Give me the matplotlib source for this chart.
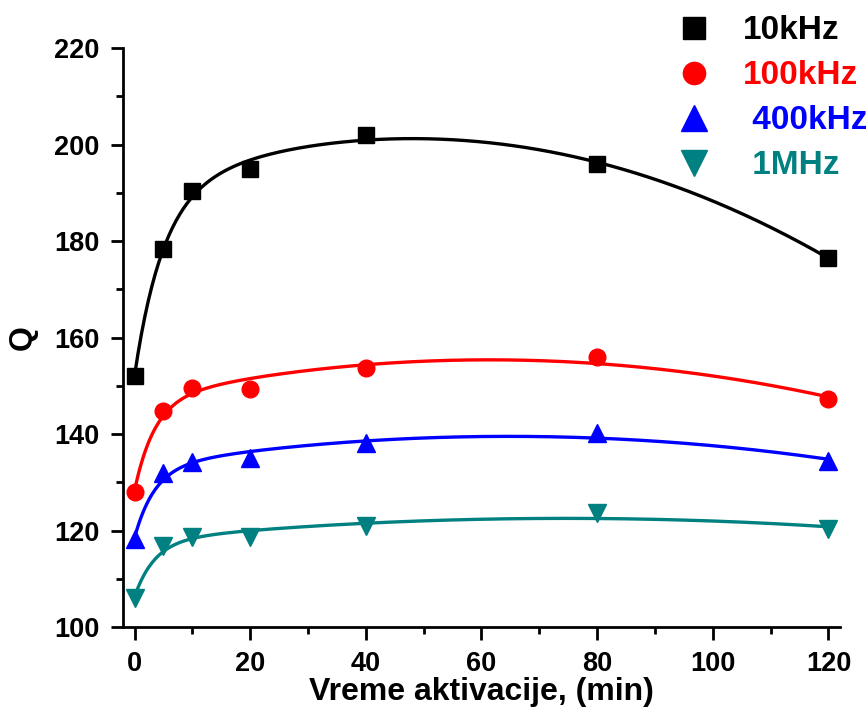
import numpy as np
import matplotlib
matplotlib.use("Agg")
from matplotlib import pyplot as plt
from matplotlib.lines import Line2D
from matplotlib.ticker import MultipleLocator

plt.rcParams['font.family'] = ['Liberation Sans', 'DejaVu Sans']
plt.rcParams['font.weight'] = 'bold'

# activation time (min)
t = [0, 5, 10, 20, 40, 80, 120]

q_10k = [152.0, 178.3, 190.4, 194.9, 202.0, 196.0, 176.5]
q_100k = [128.0, 144.8, 149.6, 149.4, 153.7, 156.0, 147.2]
q_400k = [118.2, 131.9, 134.2, 135.0, 138.1, 140.2, 134.4]
q_1m = [106.0, 116.8, 118.7, 118.7, 120.9, 123.6, 120.4]

labels = ['10kHz', '100kHz', ' 400kHz', ' 1MHz']
colors = ['#000000', '#ff0000', '#0000ff', '#008080']
markers = ['s', 'o', '^', 'v']
msizes = [11, 12, 13, 13]
leg_sizes = [16, 16, 19, 19]
taus = [5.0, 3.5, 3.5, 3.5]


def fit_curve(x, y, tau=3.5):
    # least squares: rise to plateau plus slow quadratic drift
    x = np.asarray(x, float)
    def basis(z):
        return np.column_stack([np.ones_like(z), 1 - np.exp(-z / tau), z, z ** 2])
    coef, *_ = np.linalg.lstsq(basis(x), np.asarray(y, float), rcond=None)
    xs = np.linspace(x.min(), x.max(), 400)
    return xs, basis(xs) @ coef


fig = plt.figure(figsize=(8.66, 7.11), dpi=100)
ax = fig.add_axes([0.142, 0.118, 0.828, 0.8145])

handles = []
for ys, c, m, ms, lms, lab, tau in zip([q_10k, q_100k, q_400k, q_1m], colors, markers,
                                        msizes, leg_sizes, labels, taus):
    xs, yf = fit_curve(t, ys, tau)
    ax.plot(xs, yf, color=c, lw=2.4, zorder=2)
    ax.plot(t, ys, ls='none', marker=m, ms=ms, color=c, zorder=3)
    handles.append(Line2D([], [], ls='none', marker=m, ms=lms, color=c, label=lab))

ax.set_xlim(-2, 122)
ax.set_ylim(100, 220)
ax.xaxis.set_major_locator(MultipleLocator(20))
ax.xaxis.set_minor_locator(MultipleLocator(10))
ax.yaxis.set_major_locator(MultipleLocator(20))
ax.yaxis.set_minor_locator(MultipleLocator(10))

for s in ['top', 'right']:
    ax.spines[s].set_visible(False)
for s in ['left', 'bottom']:
    ax.spines[s].set_linewidth(2)

ax.tick_params(which='major', direction='out', length=9, width=2, labelsize=19.5, pad=8)
ax.tick_params(which='minor', direction='out', length=5, width=2)

ax.set_xlabel('Vreme aktivacije, (min)', fontsize=23, fontweight='bold', labelpad=0)
ax.set_ylabel('Q', fontsize=23, fontweight='bold', labelpad=12)

leg = fig.legend(handles=handles, loc='upper left', bbox_to_anchor=(0.767, 0.997),
                 frameon=False, fontsize=24, handlelength=1.0, handletextpad=0.95,
                 labelspacing=0.42, labelcolor='linecolor', borderaxespad=0)

fig.savefig('out.png', dpi=100)
